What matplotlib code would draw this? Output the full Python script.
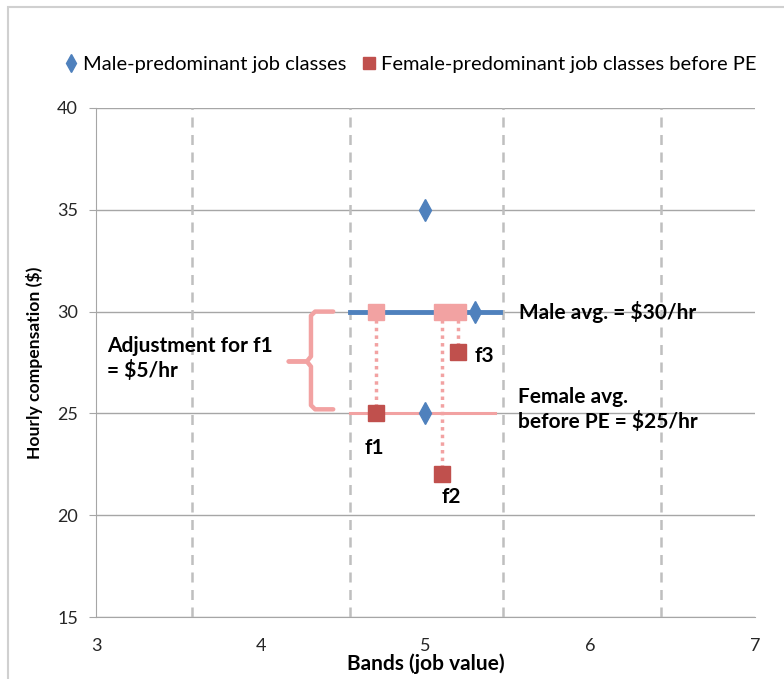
import matplotlib
matplotlib.use("Agg")
from matplotlib import pyplot as plt
from matplotlib.patches import Rectangle

# data
male_x = [5.0, 5.0, 5.3]
male_y = [35, 25, 30]
female_x = [4.7, 5.1, 5.2]
female_y = [25, 22, 28]
female_names = ['f1', 'f2', 'f3']
male_avg = 30
female_avg = 25
band_edges = [3.58, 4.54, 5.47, 6.43]
x_ticks = [3, 4, 5, 6, 7]
y_ticks = [15, 20, 25, 30, 35, 40]

blue = '#4F81BD'
red = '#C0504D'
pink = '#F2A2A2'
grid = '#A6A6A6'

plt.rcParams['font.family'] = ['Lato', 'DejaVu Sans']

fig = plt.figure(figsize=(7.84, 6.79), dpi=100)
ax = fig.add_axes([0.1224, 0.0913, 0.8406, 0.7497])

# chart area frame
fig.add_artist(Rectangle((8 / 784, -0.01), 1.0, 1 - 7 / 679 + 0.01,
                         transform=fig.transFigure, fill=False,
                         edgecolor='#D0D0D0', lw=1.5))

ax.set_xlim(3, 7)
ax.set_ylim(15, 40)
ax.set_xticks(x_ticks)
ax.set_yticks(y_ticks)
ax.yaxis.grid(True, color=grid, lw=1)
ax.set_axisbelow(True)
for b in band_edges:
    ax.axvline(b, color='#BFBFBF', lw=1.8, ls=(0, (4, 3)), zorder=1)

for s in ['top', 'right']:
    ax.spines[s].set_visible(False)
for s in ['left', 'bottom']:
    ax.spines[s].set_color(grid)
ax.tick_params(axis='both', colors=grid, labelcolor='#262626', labelsize=13, length=5)
ax.tick_params(axis='x', length=0, pad=15)
ax.tick_params(axis='y', direction='out', pad=8)

# averages
ax.plot([4.54, 5.45], [male_avg, male_avg], color=blue, lw=3.5, zorder=3)
ax.plot([4.54, 5.42], [female_avg, female_avg], color=pink, lw=2.2, zorder=3)

# adjustment lines and target positions
for x, y in zip(female_x, female_y):
    ax.plot([x, x], [male_avg, y], color=pink, lw=2.5, ls=(0, (1, 1.2)), zorder=4)
ax.plot(female_x, [male_avg] * len(female_x), 's', color=pink, ms=11, zorder=4)

ax.plot(male_x, male_y, 'd', color=blue, ms=11, zorder=5,
        label='Male-predominant job classes')
ax.plot(female_x, female_y, 's', color=red, ms=11, zorder=5,
        label='Female-predominant job classes before PE')

# point labels
offsets = [(-0.01, -1.7), (0.06, -1.1), (0.16, -0.2)]
for x, y, n, (dx, dy) in zip(female_x, female_y, female_names, offsets):
    ax.text(x + dx, y + dy, n, fontsize=15, fontweight='bold', ha='center', va='center')

# brace
ax.plot([4.44, 4.33, 4.305, 4.305, 4.28, 4.17], [30, 30, 29.8, 27.8, 27.55, 27.55],
        color=pink, lw=3.2, solid_capstyle='round', solid_joinstyle='round', zorder=3)
ax.plot([4.17, 4.28, 4.305, 4.305, 4.33, 4.44], [27.55, 27.55, 27.3, 25.4, 25.2, 25.2],
        color=pink, lw=3.2, solid_capstyle='round', solid_joinstyle='round', zorder=3)

ax.text(3.07, 27.7, 'Adjustment for f1\n= $5/hr', fontsize=15, fontweight='bold',
        va='center', ha='left', linespacing=1.25)
ax.text(5.57, 30, 'Male avg. = $30/hr', fontsize=15, fontweight='bold',
        va='center', ha='left')
ax.text(5.56, 25.2, 'Female avg.\nbefore PE = $25/hr', fontsize=15, fontweight='bold',
        va='center', ha='left', linespacing=1.25)

ax.set_xlabel('Bands (job value)', fontsize=15, fontweight='bold', labelpad=0)
ax.set_ylabel('Hourly compensation ($)', fontsize=12.6, fontweight='bold', labelpad=10)

ax.legend(loc='center', bbox_to_anchor=(0.478, 1.085), ncol=2, frameon=False,
          fontsize=14.5, handlelength=0.6, handletextpad=0.3, columnspacing=0.8,
          markerscale=0.8)

fig.savefig('out.png', dpi=100)
